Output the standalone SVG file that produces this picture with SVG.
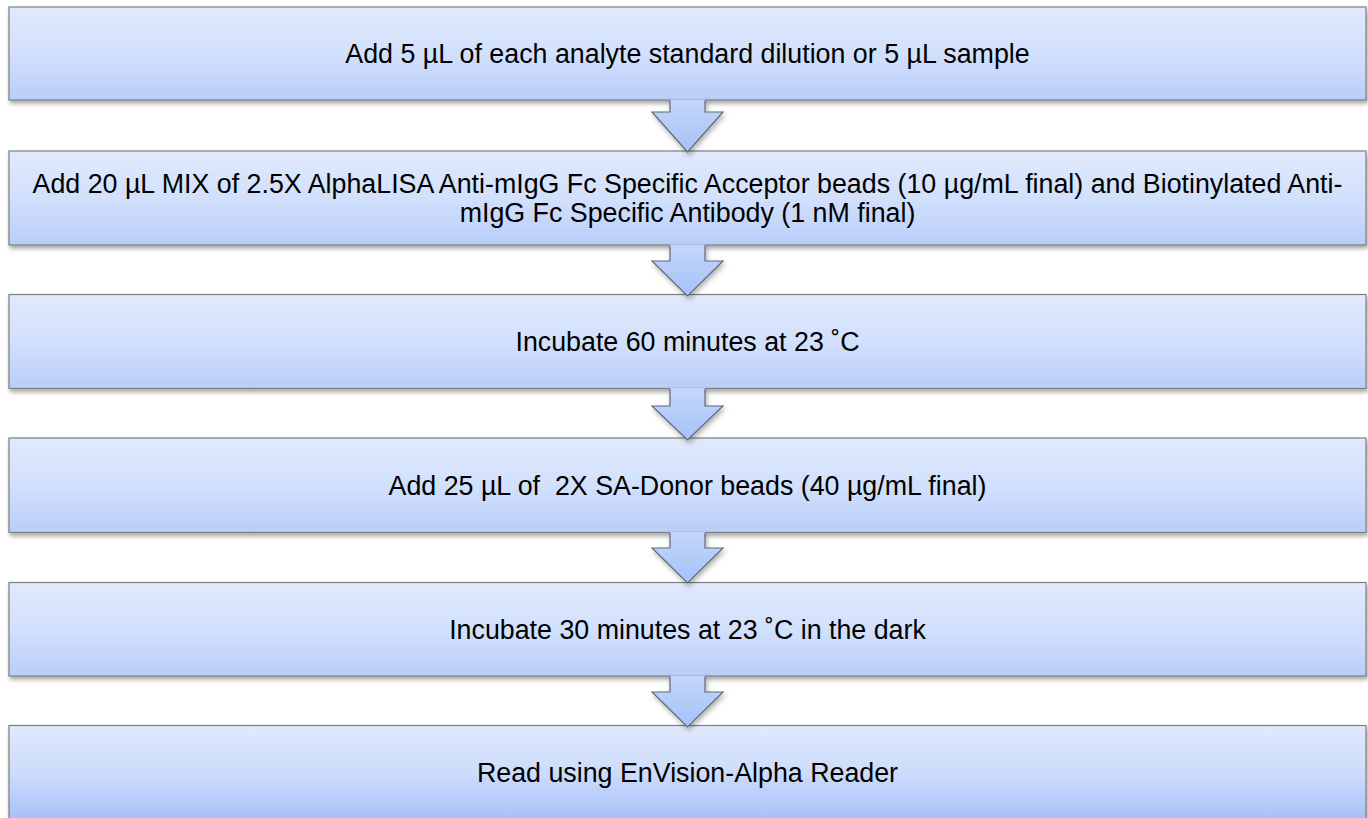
<svg xmlns="http://www.w3.org/2000/svg" width="1368" height="818" viewBox="0 0 1368 818">
  <defs>
    <linearGradient id="boxGrad" x1="0" y1="0" x2="0" y2="1">
      <stop offset="0" stop-color="#e0eafd"/>
      <stop offset="0.5" stop-color="#d2e0fc"/>
      <stop offset="1" stop-color="#b9cdf9"/>
    </linearGradient>
    <linearGradient id="lastGrad" x1="0" y1="0" x2="0" y2="1">
      <stop offset="0" stop-color="#e0eafd"/>
      <stop offset="0.5" stop-color="#cddcfb"/>
      <stop offset="1" stop-color="#a6c1f8"/>
    </linearGradient>
    <linearGradient id="arrowGrad" x1="0" y1="0" x2="0" y2="1">
      <stop offset="0" stop-color="#c4d6fb"/>
      <stop offset="1" stop-color="#a6c2f8"/>
    </linearGradient>
    <filter id="shadow" x="-5%" y="-20%" width="110%" height="150%">
      <feDropShadow dx="1.5" dy="3" stdDeviation="2" flood-color="#000" flood-opacity="0.35"/>
    </filter>
    <filter id="ashadow" x="-30%" y="-30%" width="160%" height="160%">
      <feDropShadow dx="1.5" dy="3" stdDeviation="2.5" flood-color="#000" flood-opacity="0.3"/>
    </filter>
  </defs>
  <style>
    .box { fill: url(#boxGrad); stroke: #7d7d7d; stroke-width: 1.2; filter: url(#shadow); }
    .last { fill: url(#lastGrad); }
    .lbl { font-family: "Liberation Sans", Arial, sans-serif; font-size: 26.8px; fill: #000; text-anchor: middle; white-space: pre; }
    .afill { fill: url(#arrowGrad); stroke: none; }
    .aline { fill: none; stroke: #5f6b7a; stroke-width: 1.2; stroke-linejoin: miter; }
  </style>
  <rect width="1368" height="818" fill="#ffffff"/>

  <g id="step1">
    <rect class="box" x="9" y="7" width="1357" height="93"/>
    <text class="lbl" x="687.5" y="63">Add 5 µL of each analyte standard dilution or 5 µL sample</text>
  </g>
  <g id="step2">
    <rect class="box" x="9" y="151" width="1357" height="94"/>
    <text class="lbl" x="687.5" y="193">Add 20 µL MIX of 2.5X AlphaLISA Anti-mIgG Fc Specific Acceptor beads (10 µg/mL final) and Biotinylated Anti-</text>
    <text class="lbl" x="687.5" y="222">mIgG Fc Specific Antibody (1 nM final)</text>
  </g>
  <g id="step3">
    <rect class="box" x="9" y="294.5" width="1357" height="94"/>
    <text class="lbl" x="687.5" y="350.5">Incubate 60 minutes at 23 ˚C</text>
  </g>
  <g id="step4">
    <rect class="box" x="9" y="438" width="1357" height="94.5"/>
    <text class="lbl" x="687.5" y="494.5">Add 25 µL of  2X SA-Donor beads (40 µg/mL final)</text>
  </g>
  <g id="step5">
    <rect class="box" x="9" y="582.5" width="1357" height="93.5"/>
    <text class="lbl" x="687.5" y="639">Incubate 30 minutes at 23 ˚C in the dark</text>
  </g>
  <g id="step6">
    <rect class="box last" x="9" y="725.5" width="1357" height="94"/>
    <text class="lbl" x="687.5" y="782">Read using EnVision-Alpha Reader</text>
  </g>

  <g id="connectors">
    <g filter="url(#ashadow)">
      <polygon class="afill" points="670,99.5 705,99.5 705,112 723,112 687.5,152 652,112 670,112"/>
      <polyline class="aline" points="670,100.5 670,112 652,112 687.5,152 723,112 705,112 705,100.5"/>
    </g>
    <g filter="url(#ashadow)">
      <polygon class="afill" points="670,244.5 705,244.5 705,261 723,261 687.5,296 652,261 670,261"/>
      <polyline class="aline" points="670,245.5 670,261 652,261 687.5,296 723,261 705,261 705,245.5"/>
    </g>
    <g filter="url(#ashadow)">
      <polygon class="afill" points="670,388 705,388 705,406 723,406 687.5,440 652,406 670,406"/>
      <polyline class="aline" points="670,389 670,406 652,406 687.5,440 723,406 705,406 705,389"/>
    </g>
    <g filter="url(#ashadow)">
      <polygon class="afill" points="670,532 705,532 705,548 723,548 687.5,583 652,548 670,548"/>
      <polyline class="aline" points="670,533 670,548 652,548 687.5,583 723,548 705,548 705,533"/>
    </g>
    <g filter="url(#ashadow)">
      <polygon class="afill" points="670,675.5 705,675.5 705,692 723,692 687.5,727 652,692 670,692"/>
      <polyline class="aline" points="670,676.5 670,692 652,692 687.5,727 723,692 705,692 705,676.5"/>
    </g>
  </g>
</svg>
